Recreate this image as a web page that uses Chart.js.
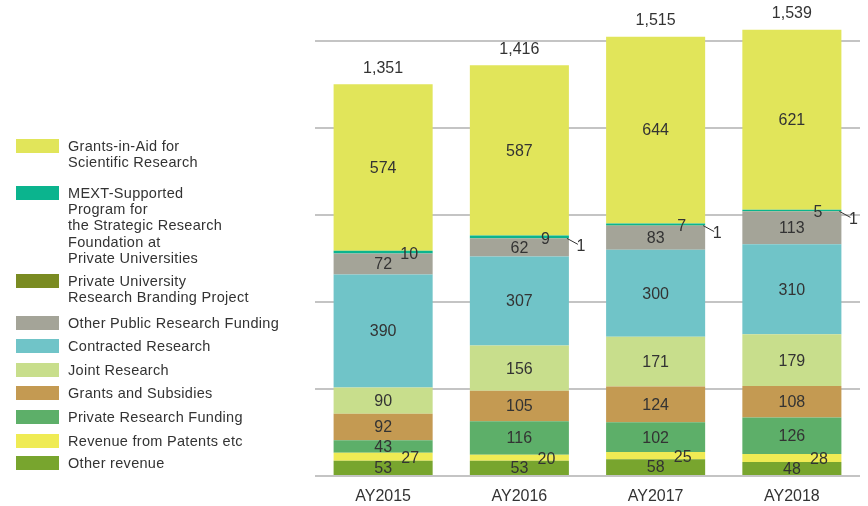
<!DOCTYPE html>
<html>
<head>
<meta charset="utf-8">
<script src="https://cdn.jsdelivr.net/npm/chart.js@4.4.0/dist/chart.umd.min.js"></script>
<style>
  html, body { margin: 0; padding: 0; background: #fff; }
  #wrap { position: relative; width: 868px; height: 506px; overflow: hidden; }
  #chart { position: absolute; left: 0; top: 0; }
  #legend { position: absolute; left: 0; top: 0; width: 310px; height: 506px;
    font-family: "Liberation Sans", Arial, Helvetica, sans-serif; font-size: 14.5px; color: #333; letter-spacing: 0.3px; }
  .item { position: absolute; left: 16px; display: flex; align-items: flex-start; }
  .box { width: 43px; height: 14px; margin-top: 1px; flex: none; }
  .txt { margin-left: 9px; line-height: 16.2px; white-space: nowrap; }
</style>
</head>
<body>
<div id="wrap">
  <canvas id="chart" width="868" height="506"></canvas>
  <div id="legend"></div>
</div>
<script>
// ---- data ----
const categories = ['AY2015', 'AY2016', 'AY2017', 'AY2018'];
const otherRevenue     = [53, 53, 58, 48];
const patentRevenue    = [27, 20, 25, 28];
const privateFunding   = [43, 116, 102, 126];
const grantsSubsidies  = [92, 105, 124, 108];
const jointResearch    = [90, 156, 171, 179];
const contractedRes    = [390, 307, 300, 310];
const otherPublic      = [72, 62, 83, 113];
const brandingProject  = [0, 1, 1, 1];
const mextProgram      = [10, 9, 7, 5];
const grantsInAid      = [574, 587, 644, 621];
const totals           = [1351, 1416, 1515, 1539];
const yTicks           = [0, 300, 600, 900, 1200, 1500];

const seriesNames = [
  'Other revenue',
  'Revenue from Patents etc',
  'Private Research Funding',
  'Grants and Subsidies',
  'Joint Research',
  'Contracted Research',
  'Other Public Research Funding',
  'Private University\nResearch Branding Project',
  'MEXT-Supported\nProgram for\nthe Strategic Research\nFoundation at\nPrivate Universities',
  'Grants-in-Aid for\nScientific Research'
];
const seriesValues = [otherRevenue, patentRevenue, privateFunding, grantsSubsidies, jointResearch,
  contractedRes, otherPublic, brandingProject, mextProgram, grantsInAid];

// ---- styles ----
const seriesColors = ['#78a52e', '#efeb54', '#5daf69', '#c49a52', '#c8de8c',
  '#70c4c8', '#a4a498', '#7a8b22', '#0bb48e', '#e1e55a'];
const labelMode = ['center', 'rightMid', 'center', 'center', 'center',
  'center', 'center', 'leader', 'rightBase', 'center'];

const FONT = '"Liberation Sans", Arial, Helvetica, sans-serif';
const TEXT = '#333333';

const labelPlugin = {
  id: 'segLabels',
  afterDatasetsDraw(chart) {
    const ctx = chart.ctx;
    ctx.save();
    ctx.font = '16px ' + FONT;
    ctx.fillStyle = TEXT;
    ctx.textBaseline = 'middle';
    chart.data.datasets.forEach((ds, i) => {
      const meta = chart.getDatasetMeta(i);
      meta.data.forEach((el, j) => {
        const v = ds.data[j];
        if (!v) return;
        const p = el.getProps(['x', 'y', 'base', 'width'], true);
        const mid = (p.y + p.base) / 2;
        const mode = labelMode[i];
        ctx.textAlign = 'center';
        if (mode === 'center') {
          ctx.fillText(String(v), p.x, mid + 1);
        } else if (mode === 'rightMid') {
          ctx.fillText(String(v), p.x + 27, mid + 2);
        } else if (mode === 'rightBase') {
          ctx.fillText(String(v), p.x + 26, p.base + 1);
        } else if (mode === 'leader') {
          const rx = p.x + p.width / 2;
          ctx.strokeStyle = '#333';
          ctx.lineWidth = 1;
          ctx.beginPath();
          ctx.moveTo(rx - 2, mid);
          ctx.lineTo(rx + 9, mid + 6);
          ctx.stroke();
          ctx.fillText(String(v), rx + 12, mid + 8);
        }
      });
    });
    // totals above the stacks
    const lastMeta = chart.getDatasetMeta(chart.data.datasets.length - 1);
    lastMeta.data.forEach((el, j) => {
      const p = el.getProps(['x', 'y'], true);
      ctx.textAlign = 'center';
      ctx.fillText(totals[j].toLocaleString('en-US'), p.x, p.y - 16);
    });
    ctx.restore();
  }
};

new Chart(document.getElementById('chart'), {
  type: 'bar',
  data: {
    labels: categories,
    datasets: seriesValues.map((vals, i) => ({
      label: seriesNames[i].replace(/\n/g, ' '),
      data: vals,
      backgroundColor: seriesColors[i],
      borderWidth: 0,
      barPercentage: 0.727,
      categoryPercentage: 1.0
    }))
  },
  options: {
    responsive: false,
    animation: false,
    layout: { padding: { left: 315, right: 8, top: 12, bottom: 0 } },
    plugins: { legend: { display: false }, tooltip: { enabled: false } },
    scales: {
      x: {
        stacked: true,
        grid: { display: false, drawTicks: false },
        border: { display: false },
        ticks: { color: TEXT, font: { family: FONT, size: 16 }, padding: 11 },
        afterFit(scale) { scale.height = 30; }
      },
      y: {
        stacked: true,
        min: 0,
        max: 1600,
        afterBuildTicks(scale) { scale.ticks = yTicks.map(v => ({ value: v })); },
        grid: { color: '#c4c4c4', lineWidth: 2, drawTicks: false },
        border: { display: false },
        ticks: { display: false }
      }
    }
  },
  plugins: [labelPlugin]
});

// ---- HTML legend (top-to-bottom reverse of stacking order) ----
const legendTops = [138, 185, 273, 315, 338, 362, 385, 409, 433, 455];
const legend = document.getElementById('legend');
for (let k = 0; k < seriesNames.length; k++) {
  const i = seriesNames.length - 1 - k;
  const item = document.createElement('div');
  item.className = 'item';
  item.style.top = legendTops[k] + 'px';
  const box = document.createElement('div');
  box.className = 'box';
  box.style.background = seriesColors[i];
  const txt = document.createElement('div');
  txt.className = 'txt';
  txt.innerHTML = seriesNames[i].split('\n').join('<br>');
  item.appendChild(box);
  item.appendChild(txt);
  legend.appendChild(item);
}
</script>
</body>
</html>
